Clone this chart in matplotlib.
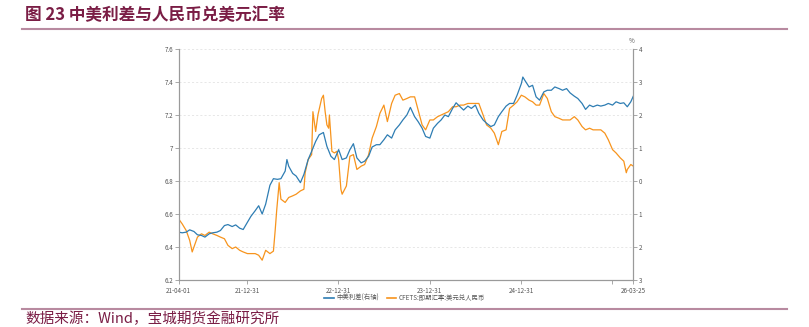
import matplotlib
matplotlib.use("Agg")
import matplotlib.pyplot as plt
import pandas as pd
from matplotlib.lines import Line2D

plt.rcParams['font.family'] = ['Noto Sans CJK SC', 'DejaVu Sans']

title = "图 23 中美利差与人民币兑美元汇率"
source = "数据来源：Wind，宝城期货金融研究所"
spread_label = "中美利差(右轴)"
fx_label = "CFETS:即期汇率:美元兑人民币"

spread_dates = [
    "2021-04-01", "2021-04-15", "2021-05-01", "2021-05-15", "2021-06-01", "2021-06-15",
    "2021-07-01", "2021-07-15", "2021-08-01", "2021-08-15", "2021-09-01", "2021-09-15",
    "2021-10-01", "2021-10-15", "2021-11-01", "2021-11-15", "2021-12-01", "2021-12-15",
    "2022-01-01", "2022-01-15", "2022-02-01", "2022-02-15", "2022-03-01", "2022-03-15",
    "2022-04-01", "2022-04-15", "2022-05-01", "2022-05-15", "2022-06-01", "2022-06-08",
    "2022-06-15", "2022-07-01", "2022-07-15", "2022-08-01", "2022-08-15", "2022-09-01",
    "2022-09-15", "2022-10-01", "2022-10-15", "2022-11-01", "2022-11-15", "2022-12-01",
    "2022-12-15", "2023-01-01", "2023-01-15", "2023-02-01", "2023-02-15", "2023-03-01",
    "2023-03-15", "2023-04-01", "2023-04-15", "2023-05-01", "2023-05-15", "2023-06-01",
    "2023-06-15", "2023-07-01", "2023-07-15", "2023-08-01", "2023-08-15", "2023-09-01",
    "2023-09-15", "2023-10-01", "2023-10-15", "2023-11-01", "2023-11-15", "2023-12-01",
    "2023-12-15", "2024-01-01", "2024-01-15", "2024-02-01", "2024-02-15", "2024-03-01",
    "2024-03-15", "2024-04-01", "2024-04-15", "2024-05-01", "2024-05-15", "2024-06-01",
    "2024-06-15", "2024-07-01", "2024-07-15", "2024-08-01", "2024-08-15", "2024-09-01",
    "2024-09-15", "2024-10-01", "2024-10-15", "2024-11-01", "2024-11-15", "2024-12-01",
    "2024-12-15", "2025-01-01", "2025-01-07", "2025-01-15", "2025-02-01", "2025-02-15",
    "2025-03-01", "2025-03-15", "2025-04-01", "2025-04-15", "2025-05-01", "2025-05-15",
    "2025-06-01", "2025-06-15", "2025-07-01", "2025-07-15", "2025-08-01", "2025-08-15",
    "2025-09-01", "2025-09-15", "2025-10-01", "2025-10-15", "2025-11-01", "2025-11-15",
    "2025-12-01", "2025-12-15", "2026-01-01", "2026-01-15", "2026-02-01", "2026-02-15",
    "2026-03-01", "2026-03-15", "2026-03-25",
]
spread_vals = [
    1.55, 1.57, 1.55, 1.48, 1.53, 1.63,
    1.65, 1.70, 1.60, 1.57, 1.55, 1.50,
    1.35, 1.32, 1.38, 1.33, 1.43, 1.47,
    1.25, 1.07, 0.90, 0.75, 1.00, 0.70,
    0.13, -0.07, -0.05, -0.07, -0.30, -0.65,
    -0.45, -0.23, -0.15, 0.05, -0.20, -0.65,
    -0.90, -1.20, -1.40, -1.47, -1.05, -0.75,
    -0.65, -0.95, -0.65, -0.70, -0.95, -1.13,
    -0.70, -0.55, -0.60, -0.75, -1.03, -1.10,
    -1.10, -1.25, -1.40, -1.30, -1.55, -1.70,
    -1.85, -2.00, -2.23, -1.95, -1.80, -1.60,
    -1.35, -1.30, -1.60, -1.75, -1.85, -2.00,
    -1.95, -2.20, -2.37, -2.25, -2.15, -2.27,
    -2.20, -2.30, -2.05, -1.85, -1.75, -1.65,
    -1.70, -1.95, -2.10, -2.27, -2.35, -2.35,
    -2.60, -2.95, -3.15, -3.05, -2.85, -2.90,
    -2.55, -2.45, -2.70, -2.75, -2.75, -2.85,
    -2.80, -2.75, -2.80, -2.67, -2.57, -2.50,
    -2.35, -2.17, -2.30, -2.25, -2.30, -2.27,
    -2.30, -2.35, -2.30, -2.40, -2.35, -2.37,
    -2.25, -2.40, -2.57,
]

fx_dates = [
    "2021-04-01", "2021-04-15", "2021-05-01", "2021-05-15", "2021-05-25", "2021-06-01",
    "2021-06-15", "2021-07-01", "2021-07-15", "2021-08-01", "2021-08-15", "2021-09-01",
    "2021-09-15", "2021-10-01", "2021-10-15", "2021-11-01", "2021-11-15", "2021-12-01",
    "2021-12-15", "2022-01-01", "2022-01-15", "2022-02-01", "2022-02-15", "2022-03-01",
    "2022-03-15", "2022-04-01", "2022-04-15", "2022-04-22", "2022-04-28", "2022-05-08",
    "2022-05-15", "2022-06-01", "2022-06-15", "2022-07-01", "2022-07-15", "2022-08-01",
    "2022-08-15", "2022-08-20", "2022-09-01", "2022-09-15", "2022-09-20", "2022-10-01",
    "2022-10-10", "2022-10-25", "2022-11-01", "2022-11-08", "2022-11-15", "2022-11-22",
    "2022-11-25", "2022-12-05", "2022-12-15", "2022-12-25", "2023-01-01", "2023-01-10",
    "2023-01-15", "2023-02-01", "2023-02-15", "2023-03-01", "2023-03-15", "2023-04-01",
    "2023-04-15", "2023-05-01", "2023-05-15", "2023-06-01", "2023-06-15", "2023-07-01",
    "2023-07-15", "2023-08-01", "2023-08-15", "2023-09-01", "2023-09-15", "2023-10-01",
    "2023-10-15", "2023-11-01", "2023-11-15", "2023-12-01", "2023-12-15", "2024-01-01",
    "2024-01-15", "2024-02-01", "2024-02-15", "2024-03-01", "2024-03-15", "2024-04-01",
    "2024-04-15", "2024-05-01", "2024-05-15", "2024-06-01", "2024-06-15", "2024-07-01",
    "2024-07-15", "2024-08-01", "2024-08-15", "2024-09-01", "2024-09-15", "2024-10-01",
    "2024-10-15", "2024-11-01", "2024-11-15", "2024-12-01", "2024-12-15", "2025-01-01",
    "2025-01-15", "2025-02-01", "2025-02-15", "2025-03-01", "2025-03-15", "2025-04-01",
    "2025-04-15", "2025-05-01", "2025-05-15", "2025-06-01", "2025-06-15", "2025-07-01",
    "2025-07-15", "2025-08-01", "2025-08-15", "2025-09-01", "2025-09-15", "2025-10-01",
    "2025-10-15", "2025-11-01", "2025-11-15", "2025-12-01", "2025-12-15", "2026-01-01",
    "2026-01-15", "2026-02-01", "2026-02-15", "2026-02-25", "2026-03-01", "2026-03-15",
    "2026-03-25",
]
fx_vals = [
    6.57, 6.54, 6.50, 6.44, 6.37, 6.40,
    6.46, 6.48, 6.47, 6.49, 6.48, 6.47,
    6.46, 6.45, 6.41, 6.39, 6.40, 6.38,
    6.37, 6.36, 6.36, 6.36, 6.35, 6.32,
    6.38, 6.36, 6.375, 6.50, 6.62, 6.79,
    6.69, 6.67, 6.70, 6.71, 6.72, 6.74,
    6.75, 6.85, 6.93, 6.96, 7.22, 7.10,
    7.20, 7.30, 7.32, 7.22, 7.14, 7.12,
    7.20, 6.98, 6.97, 6.98, 6.93, 6.75,
    6.72, 6.77, 6.95, 6.96, 6.87, 6.89,
    6.90, 6.96, 7.06, 7.13, 7.21, 7.26,
    7.16, 7.27, 7.32, 7.33, 7.29, 7.30,
    7.31, 7.31, 7.23, 7.14, 7.11, 7.17,
    7.17, 7.19, 7.20, 7.21, 7.22, 7.25,
    7.25, 7.26, 7.26, 7.27, 7.27, 7.27,
    7.27, 7.20, 7.14, 7.12, 7.09, 7.02,
    7.10, 7.11, 7.24, 7.26, 7.28, 7.32,
    7.31, 7.29, 7.28, 7.26, 7.26, 7.33,
    7.30, 7.22, 7.19, 7.18, 7.17, 7.17,
    7.17, 7.19, 7.17, 7.13, 7.11, 7.12,
    7.11, 7.11, 7.11, 7.09, 7.05, 6.99,
    6.97, 6.94, 6.92, 6.85, 6.87, 6.90,
    6.89,
]

left_ticks = [6.2, 6.4, 6.6, 6.8, 7.0, 7.2, 7.4, 7.6]
left_labels = ["6.2", "6.4", "6.6", "6.8", "7", "7.2", "7.4", "7.6"]
right_ticks = [3, 2, 1, 0, -1, -2, -3, -4]
right_labels = ["3", "2", "1", "0", "1", "2", "3", "4"]
x_tick_dates = ["2021-04-01", "2021-12-31", "2022-12-31", "2023-12-31",
                "2024-12-31", "2025-12-31", "2026-03-25"]
x_tick_labels = ["21-04-01", "21-12-31", "22-12-31", "23-12-31", "24-12-31", "", "26-03-25"]

BLUE = "#2e7db3"
ORANGE = "#f7941d"
MAROON = "#7a1d45"
LINEC = "#b88aa0"
AXC = "#9a9a9a"
TXT = "#555555"

fig = plt.figure(figsize=(8.09, 3.27), dpi=100)
W, H = 809, 327
ax = fig.add_axes([178.7 / W, 1 - 280 / H, (633.3 - 178.7) / W, (280 - 49) / H])
ax2 = ax.twinx()

sd = pd.to_datetime(spread_dates)
fd = pd.to_datetime(fx_dates)
ax.plot(fd, fx_vals, color=ORANGE, lw=0.9)
ax2.plot(sd, spread_vals, color=BLUE, lw=0.9)

ax.set_ylim(6.2, 7.6)
ax2.set_ylim(3, -4)
ax.set_xlim(pd.Timestamp("2021-04-01"), pd.Timestamp("2026-03-25"))

ax.set_yticks(left_ticks)
ax.set_yticklabels(left_labels)
ax2.set_yticks(right_ticks)
ax2.set_yticklabels(right_labels)
ax.set_xticks(pd.to_datetime(x_tick_dates))
ax.set_xticklabels(x_tick_labels)

ax.grid(axis='y', color='#dddddd', lw=0.5, ls=(0, (3, 3)))
ax.set_axisbelow(True)

for a in (ax, ax2):
    a.spines['top'].set_visible(False)
    for s in ('left', 'right', 'bottom'):
        a.spines[s].set_color(AXC)
        a.spines[s].set_linewidth(0.8)
    a.tick_params(colors=AXC, labelcolor=TXT, labelsize=4.5, length=3, width=0.6, pad=1)
ax.tick_params(axis='x', pad=2)

fig.text(632 / W, 1 - 41 / H, "%", fontsize=4.5, color=TXT, ha='center', va='center')

handles = [Line2D([], [], color=BLUE, lw=1.2), Line2D([], [], color=ORANGE, lw=1.2)]
fig.legend(handles, [spread_label, fx_label], loc='center', bbox_to_anchor=(404.5 / W, 1 - 298 / H),
           ncol=2, frameon=False, fontsize=4.6, handlelength=1.5, handletextpad=0.4,
           columnspacing=1.2, labelcolor=TXT, borderpad=0, borderaxespad=0)

fig.text(25 / W, 1 - 15.5 / H, title, fontsize=12, color=MAROON, fontweight='bold',
         ha='left', va='center')
fig.add_artist(Line2D([22 / W, 787 / W], [1 - 28.5 / H, 1 - 28.5 / H], color=LINEC, lw=1.5))
fig.add_artist(Line2D([22 / W, 787 / W], [1 - 308.5 / H, 1 - 308.5 / H], color=LINEC, lw=1.5))
fig.text(25 / W, 1 - 326 / H, source, fontsize=10.5, color=MAROON, ha='left', va='bottom')

fig.savefig("out.png", dpi=100)
